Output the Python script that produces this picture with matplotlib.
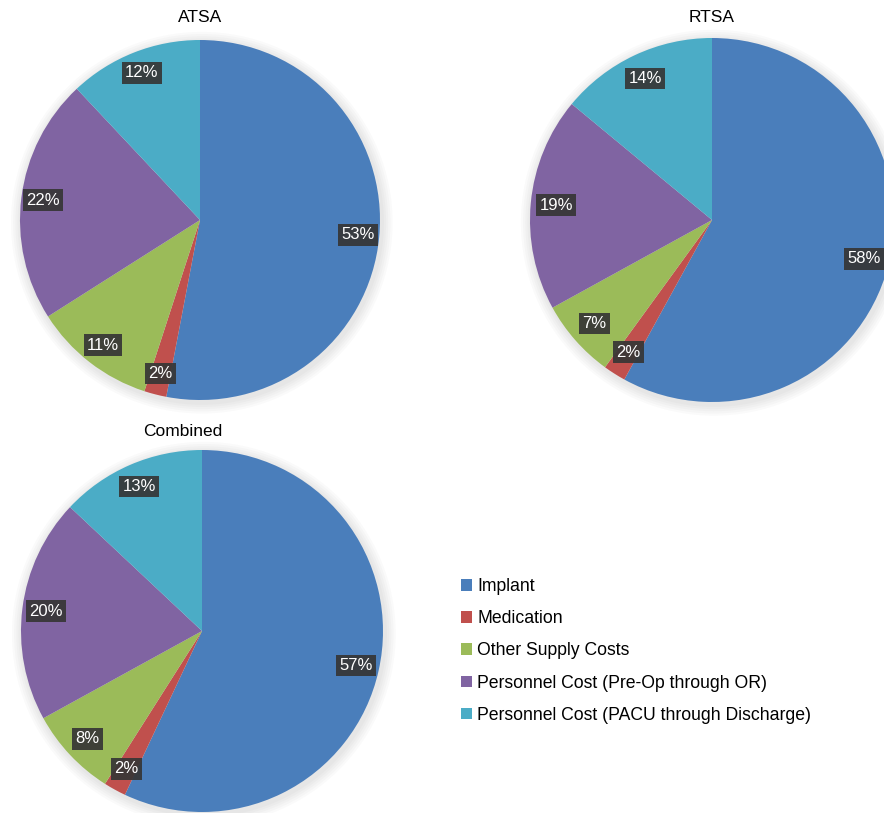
import matplotlib
matplotlib.use("Agg")
import matplotlib.pyplot as plt
from matplotlib.patches import Patch, Circle

plt.rcParams['font.family'] = ['Liberation Sans', 'DejaVu Sans']

categories = ['Implant', 'Medication', 'Other Supply Costs',
              'Personnel Cost (Pre-Op through OR)',
              'Personnel Cost (PACU through Discharge)']
colors = ['#4a7ebb', '#c0504d', '#9bbb59', '#8064a2', '#4bacc6']

atsa = [53, 2, 11, 22, 12]
rtsa = [58, 2, 7, 19, 14]
combined = [57, 2, 8, 20, 13]

W, H = 884, 813
fig = plt.figure(figsize=(W / 100, H / 100), dpi=100)


def draw_pie(values, title, cx, cy, r, title_x, title_y, pdist):
    # cx, cy, r in pixels (y measured from top)
    ax = fig.add_axes([(cx - r) / W, (H - cy - r) / H, 2 * r / W, 2 * r / H])
    ax.set_aspect('equal')
    ax.axis('off')
    # soft shadow around the pie
    for k in range(5):
        ax.add_patch(Circle((0.01, -0.015), 1.0 + 0.012 * (5 - k),
                            color='#777777', alpha=0.035, lw=0, zorder=0,
                            clip_on=False))
    wedges, texts, autotexts = ax.pie(
        values, colors=colors, startangle=90, counterclock=False,
        radius=1.0, autopct=lambda p: '%d%%' % round(p), pctdistance=pdist,
        wedgeprops=dict(linewidth=0),
        textprops=dict(color='white', fontsize=12))
    for w in wedges:
        w.set_zorder(2)
    for t in autotexts:
        t.set_zorder(5)
        t.set_bbox(dict(boxstyle='square,pad=0.2', facecolor='#363636',
                        edgecolor='none', alpha=0.92))
    ax.set_xlim(-1, 1)
    ax.set_ylim(-1, 1)
    fig.text(title_x / W, 1 - title_y / H, title, ha='center', va='center',
             fontsize=12.5)


draw_pie(atsa, 'ATSA', 200, 220, 180, 200, 18, 0.88)
draw_pie(rtsa, 'RTSA', 712, 220, 182, 712, 18, 0.86)
draw_pie(combined, 'Combined', 202, 631, 181, 183, 431, 0.87)

handles = [Patch(facecolor=c, edgecolor='none') for c in colors]
fig.legend(handles, categories, loc='upper left',
           bbox_to_anchor=(461 / W, 1 - 578 / H), frameon=False,
           fontsize=12.7, handlelength=0.62, handleheight=0.62,
           handletextpad=0.3, labelspacing=0.86, borderpad=0,
           borderaxespad=0)

fig.savefig('out.png', dpi=100, facecolor='white')
